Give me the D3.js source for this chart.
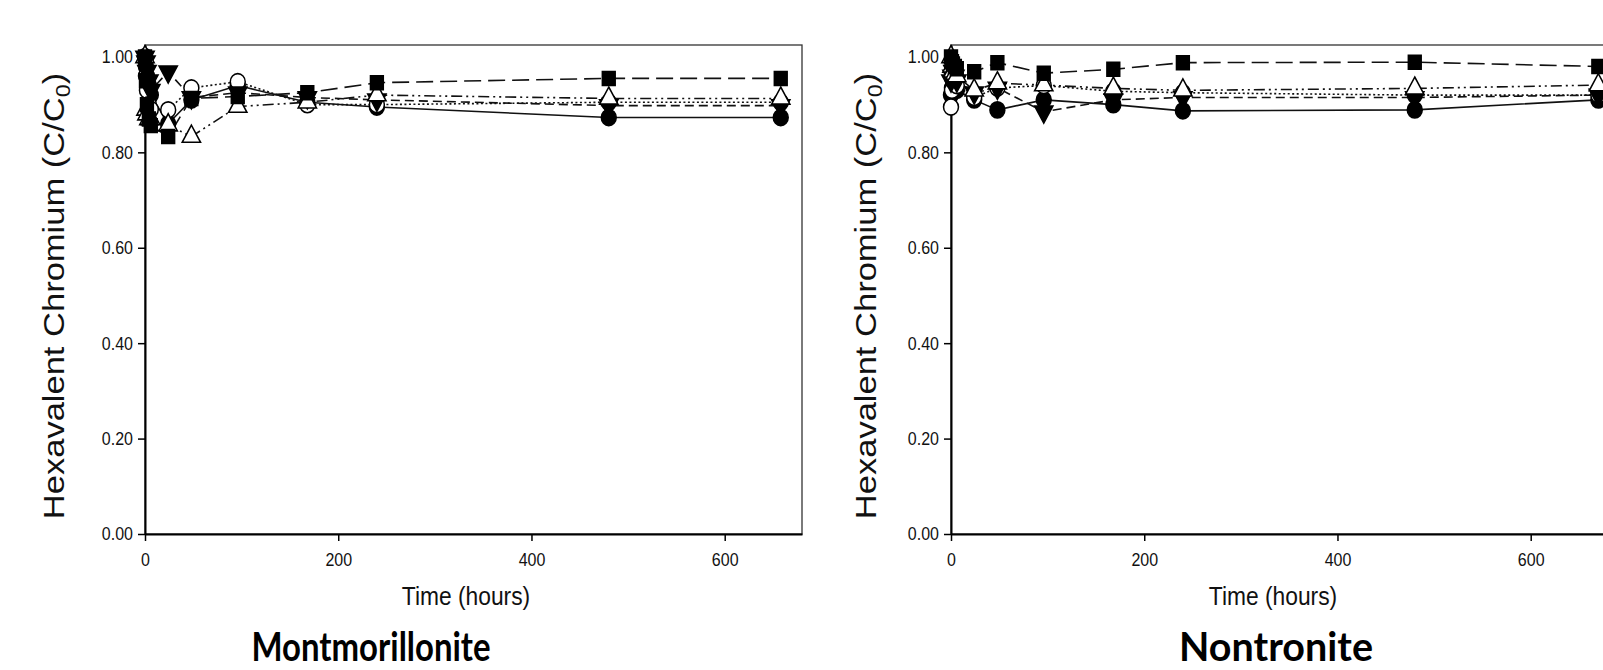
<!DOCTYPE html>
<html lang="en">
<head>
<meta charset="UTF-8">
<title>Hexavalent Chromium vs Time</title>
<script src="https://cdnjs.cloudflare.com/ajax/libs/d3/7.8.5/d3.min.js"></script>
<style>
    body {
        margin: 0;
        background-color: #fff;
    }
    svg {
        display: block;
        font-family: "Liberation Sans", Arial, sans-serif;
    }
</style>
</head>
<body>
<svg id="chart" width="1603" height="670"></svg>
<script>
    // Sampling times (hours)
    const timesMont = [0, 1, 2, 4, 6, 24, 48, 96, 168, 240, 480, 658];
    const timesNont = [0, 1, 2, 4, 6, 24, 48, 96, 168, 240, 480, 670];

    // Montmorillonite, C/C0 per series
    const montFilledCircle = [1.00, 0.98, 0.96, 0.94, 0.92, 0.86, 0.91, 0.94, 0.905, 0.895, 0.873, 0.873];
    const montOpenCircle = [1.00, 0.96, 0.93, 0.90, 0.89, 0.889, 0.935, 0.948, 0.900, 0.900, 0.905, 0.905];
    const montFilledTriDown = [1.00, 0.99, 0.97, 0.95, 0.93, 0.969, 0.915, 0.925, 0.915, 0.910, 0.898, 0.898];
    const montOpenTriUp = [1.00, 0.89, 0.88, 0.87, 0.87, 0.857, 0.833, 0.896, 0.905, 0.920, 0.913, 0.913];
    const montFilledSquare = [1.00, 0.95, 0.90, 0.87, 0.856, 0.833, 0.913, 0.917, 0.925, 0.946, 0.955, 0.955];

    // Nontronite, C/C0 per series
    const nontFilledCircle = [0.92, 0.935, 0.95, 0.94, 0.93, 0.91, 0.889, 0.91, 0.90, 0.887, 0.889, 0.91];
    const nontOpenCircle = [0.895, 0.93, 0.95, 0.96, 0.94, 0.915, 0.935, 0.94, 0.928, 0.925, 0.92, 0.92];
    const nontFilledTriDown = [0.95, 0.96, 0.97, 0.96, 0.95, 0.925, 0.935, 0.885, 0.91, 0.915, 0.915, 0.92];
    const nontOpenTriUp = [1.00, 0.98, 0.97, 0.965, 0.96, 0.93, 0.945, 0.941, 0.934, 0.93, 0.934, 0.941];
    const nontFilledSquare = [1.00, 0.99, 0.985, 0.98, 0.975, 0.969, 0.988, 0.966, 0.974, 0.988, 0.989, 0.98];

    // Axis ticks and labels
    const xTicks = [0, 200, 400, 600];
    const yTicks = [0, 0.2, 0.4, 0.6, 0.8, 1.0];
    const xTitle = "Time (hours)";
    const panelTitles = ["Montmorillonite", "Nontronite"];

    // The source picture is a little stretched vertically
    const k = 1.17;

    const svg = d3.select("#chart");
    svg.append("rect").attr("width", 1603).attr("height", 670).attr("fill", "#fff");

    // Series look (SigmaPlot style defaults)
    const styles = [
        {symbol: d3.symbolCircle, size: 175, fill: "#000", dash: null, rot: 0},
        {symbol: d3.symbolCircle, size: 175, fill: "#fff", dash: "2,2.5", rot: 0},
        {symbol: d3.symbolTriangle, size: 145, fill: "#000", dash: "9,5", rot: 180},
        {symbol: d3.symbolTriangle, size: 145, fill: "#fff", dash: "11,4,2,4,2,4", rot: 0},
        {symbol: d3.symbolSquare, size: 165, fill: "#000", dash: "17,7", rot: 0}
    ];

    function drawPanel(p) {
        const x = d3.scaleLinear().domain([0, 680]).range([p.left, p.right]);
        const y = d3.scaleLinear().domain([0, 1.025]).range([534, 45]);
        const g = svg.append("g");

        // frame
        g.append("rect")
            .attr("x", p.left).attr("y", y(1.025))
            .attr("width", p.right - p.left).attr("height", y(0) - y(1.025))
            .attr("fill", "none").attr("stroke", "#333").attr("stroke-width", 1.3);

        // y axis
        const ya = g.append("g")
            .attr("transform", `translate(${p.left},0)`)
            .call(d3.axisLeft(y).tickValues(yTicks).tickFormat(d3.format(".2f"))
                .tickSize(7).tickPadding(5).tickSizeOuter(0));
        // x axis
        const xa = g.append("g")
            .attr("transform", `translate(0,${y(0)})`)
            .call(d3.axisBottom(x).tickValues(xTicks).tickFormat(d3.format("d"))
                .tickSize(7).tickPadding(9).tickSizeOuter(0));

        [ya, xa].forEach(a => {
            a.select(".domain").attr("stroke", "#000").attr("stroke-width", 2);
            a.selectAll(".tick line").attr("stroke", "#000").attr("stroke-width", 1.5);
            a.selectAll(".tick text")
                .attr("font-size", 16)
                .attr("font-family", "Liberation Sans, Arial, sans-serif")
                .attr("fill", "#111")
                .attr("transform", `scale(1,${k})`);
        });

        // series lines
        const line = d3.line().x(d => x(d[0])).y(d => y(d[1]));
        p.series.forEach((vals, i) => {
            const pts = p.times.map((t, j) => [t, vals[j]]);
            g.append("path")
                .datum(pts)
                .attr("fill", "none")
                .attr("stroke", "#111")
                .attr("stroke-width", 1.6)
                .attr("stroke-dasharray", styles[i].dash)
                .attr("d", line);
        });

        // series markers
        p.series.forEach((vals, i) => {
            const s = styles[i];
            const sym = d3.symbol().type(s.symbol).size(s.size);
            g.append("g").selectAll("path")
                .data(p.times.map((t, j) => [t, vals[j]]))
                .join("path")
                .attr("d", sym)
                .attr("transform", d => `translate(${x(d[0])},${y(d[1])}) scale(1,1.08) rotate(${s.rot})`)
                .attr("fill", s.fill)
                .attr("stroke", "#000")
                .attr("stroke-width", 1.5);
        });

        // x axis title
        g.append("text")
            .attr("transform", `translate(${p.xTitleX},605) scale(1,${k})`)
            .attr("text-anchor", "middle")
            .attr("font-size", 22.8)
            .attr("fill", "#111")
            .text(xTitle);

        // y axis title with subscript
        const yt = g.append("text")
            .attr("transform", `translate(${p.yTitleX},296) rotate(-90) scale(${k},1)`)
            .attr("text-anchor", "middle")
            .attr("font-size", 29.5)
            .attr("fill", "#111");
        yt.append("tspan").text("Hexavalent Chromium (C/C");
        yt.append("tspan").attr("font-size", 20).attr("dy", 6).text("0");
        yt.append("tspan").attr("dy", -6).text(")");

        // panel title
        g.append("text")
            .attr("x", p.titleX)
            .attr("y", 661)
            .attr("text-anchor", "middle")
            .attr("font-family", "Lato, 'Open Sans', sans-serif")
            .attr("font-weight", 700)
            .attr("font-size", 41)
            .attr("textLength", p.titleLen)
            .attr("lengthAdjust", "spacingAndGlyphs")
            .attr("fill", "#000")
            .text(p.title);
    }

    drawPanel({
        left: 145, right: 802,
        times: timesMont,
        series: [montFilledCircle, montOpenCircle, montFilledTriDown, montOpenTriUp, montFilledSquare],
        xTitleX: 466, yTitleX: 64,
        title: panelTitles[0], titleX: 371, titleLen: 239
    });

    drawPanel({
        left: 951, right: 1608,
        times: timesNont,
        series: [nontFilledCircle, nontOpenCircle, nontFilledTriDown, nontOpenTriUp, nontFilledSquare],
        xTitleX: 1273, yTitleX: 876,
        title: panelTitles[1], titleX: 1276, titleLen: 194
    });
</script>
</body>
</html>
